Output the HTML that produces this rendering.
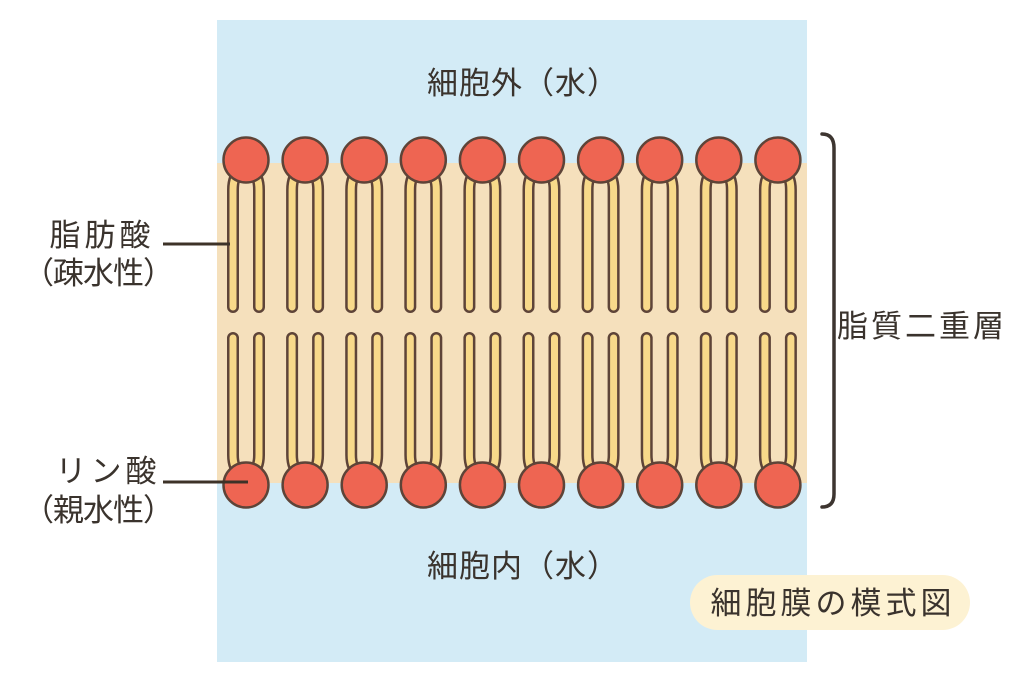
<!DOCTYPE html>
<html><head><meta charset="utf-8"><style>
html,body{margin:0;padding:0;background:#fff;width:1024px;height:683px;overflow:hidden}
svg{display:block}
text{font-family:"Liberation Sans","Noto Sans CJK JP",sans-serif;fill:#3a332d;font-size:31px;letter-spacing:3px}
</style></head><body>
<svg id="s" width="1024" height="683" viewBox="0 0 1024 683" xmlns="http://www.w3.org/2000/svg">
<rect x="217" y="20" width="590" height="642" fill="#d3ebf6"/>
<rect x="217" y="163" width="590" height="320" fill="#f5e0bc"/>
<g id="lip"></g>
<line x1="163" y1="244" x2="230" y2="244" stroke="#3d3228" stroke-width="3"/>
<line x1="163" y1="482" x2="248" y2="482" stroke="#3d3228" stroke-width="3"/>
<path d="M822 134 Q834 134 834 148 L834 494 Q834 507 822 507" fill="none" stroke="#3d3530" stroke-width="3.5" stroke-linecap="round"/>
<rect x="690" y="575" width="280" height="55" rx="27.5" fill="#fdf2d3"/>
<text x="523" y="94" text-anchor="middle" style="letter-spacing:1px">細胞外（水）</text>
<text x="523" y="577" text-anchor="middle" style="letter-spacing:1px">細胞内（水）</text>
<text x="102" y="246" text-anchor="middle" style="letter-spacing:4px">脂肪酸</text>
<text x="98" y="284" text-anchor="middle" style="letter-spacing:-1px">（疎水性）</text>
<text x="108" y="482" text-anchor="middle" style="letter-spacing:4px">リン酸</text>
<text x="98" y="521" text-anchor="middle" style="letter-spacing:-1px">（親水性）</text>
<text x="922" y="337" text-anchor="middle">脂質二重層</text>
<text x="833" y="614" text-anchor="middle" style="letter-spacing:4px">細胞膜の模式図</text>
</svg>
<script>
var g=document.getElementById('lip'),h='';
for(var i=0;i<10;i++){
 var c=246+i*59.1;
 var L=c-13,R=c+13;
 var tails=[
  'M'+(c-6)+' 172 Q'+L+' 176 '+L+' 190 L'+L+' 307',
  'M'+(c+6)+' 172 Q'+R+' 176 '+R+' 190 L'+R+' 307',
  'M'+L+' 338 L'+L+' 455 Q'+L+' 468 '+(c-6)+' 473',
  'M'+R+' 338 L'+R+' 455 Q'+R+' 468 '+(c+6)+' 473'];
 tails.forEach(function(d){
  h+='<path d="'+d+'" fill="none" stroke="#5e4438" stroke-width="12" stroke-linecap="round"/>';
  h+='<path d="'+d+'" fill="none" stroke="#f8d98a" stroke-width="7" stroke-linecap="round"/>';
 });
 h+='<circle cx="'+c+'" cy="160" r="22.5" fill="#ee6552" stroke="#5e4438" stroke-width="2.5"/>';
 h+='<circle cx="'+c+'" cy="485" r="22.5" fill="#ee6552" stroke="#5e4438" stroke-width="2.5"/>';
}
g.innerHTML=h;
</script>
</body></html>
